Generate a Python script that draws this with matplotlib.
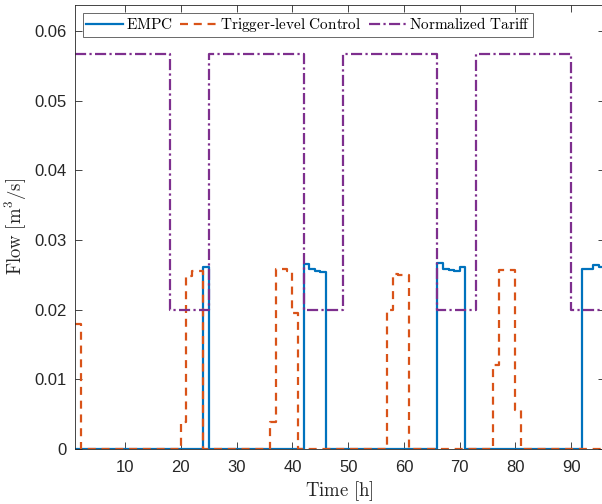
import matplotlib
matplotlib.use("Agg")
import matplotlib.pyplot as plt
import numpy as np

plt.rcParams['mathtext.fontset'] = 'cm'
plt.rcParams['font.family'] = 'Liberation Sans'

# step breakpoints (hours) and values held until the next breakpoint
tariff_t = [1, 18, 25, 42, 49, 66, 73, 90, 96]
tariff_v = [0.0567, 0.020, 0.0567, 0.020, 0.0567, 0.020, 0.0567, 0.020, 0.020]

empc_t = [1, 24, 25, 42, 43, 44, 45, 46, 66, 67, 68, 69, 70, 71, 92, 94, 95, 96]
empc_v = [0, 0.0262, 0, 0.0266, 0.0258, 0.0256, 0.0254, 0,
          0.0267, 0.0259, 0.0257, 0.0255, 0.0262, 0,
          0.0258, 0.0264, 0.0262, 0.0262]

trig_t = [1, 2, 20, 21, 22, 24, 36, 37, 39, 40, 41, 57, 58, 59, 61, 76, 77, 80, 81, 96]
trig_v = [0.018, 0, 0.0039, 0.0248, 0.0256, 0, 0.0039, 0.0259, 0.0256, 0.0196, 0,
          0.0199, 0.0252, 0.0250, 0, 0.0120, 0.0257, 0.0056, 0, 0]

xticks = [10, 20, 30, 40, 50, 60, 70, 80, 90]
yticks = [0, 0.01, 0.02, 0.03, 0.04, 0.05, 0.06]

c_blue = '#0072BD'
c_orange = '#D95319'
c_purple = '#7E2F8E'
c_axis = '#262626'

fig = plt.figure(figsize=(6.02, 5.04), dpi=100)
ax = fig.add_axes([75/602, 55/504, 529.6/602, 444.3/504])

ax.step(empc_t, empc_v, where='post', color=c_blue, lw=1.6,
        label=r'$\mathrm{EMPC}$')
ax.step(trig_t, trig_v, where='post', color=c_orange, lw=1.6,
        linestyle=(0, (3.6, 2.6)), label=r'$\mathrm{Trigger}$-$\mathrm{level\ Control}$')
ax.step(tariff_t, tariff_v, where='post', color=c_purple, lw=1.6,
        linestyle=(0, (5.0, 1.5, 1.0, 1.5)), label=r'$\mathrm{Normalized\ Tariff}$')

ax.set_xlim(1, 96)
ax.set_ylim(0, 0.0638)
ax.set_xticks(xticks)
ax.set_yticks(yticks)
ax.set_yticklabels(['0', '0.01', '0.02', '0.03', '0.04', '0.05', '0.06'])

ax.tick_params(direction='in', length=5, width=0.6, colors=c_axis,
               labelsize=12, top=True, right=True)
ax.tick_params(axis='x', pad=8)
ax.tick_params(axis='y', pad=6)
for s in ax.spines.values():
    s.set_color(c_axis)
    s.set_linewidth(0.6)

ax.set_xlabel(r'$\mathrm{Time\ [h]}$', fontsize=13.5, color=c_axis)
ax.set_ylabel(r'$\mathrm{Flow\ [m^3/s]}$', fontsize=13.5, color=c_axis)
ax.xaxis.set_label_coords(0.5, -0.068)
ax.yaxis.set_label_coords(-0.086, 0.5)

leg = ax.legend(loc='upper left', bbox_to_anchor=(83/602, 1 - 13/504),
                bbox_transform=fig.transFigure, ncol=3, fontsize=11,
                frameon=True, fancybox=False, handlelength=2.4,
                handletextpad=0.2, columnspacing=0.5, borderpad=0.2,
                borderaxespad=0)
leg.get_frame().set_edgecolor(c_axis)
leg.get_frame().set_linewidth(0.6)

fig.savefig('out.png', dpi=100)
